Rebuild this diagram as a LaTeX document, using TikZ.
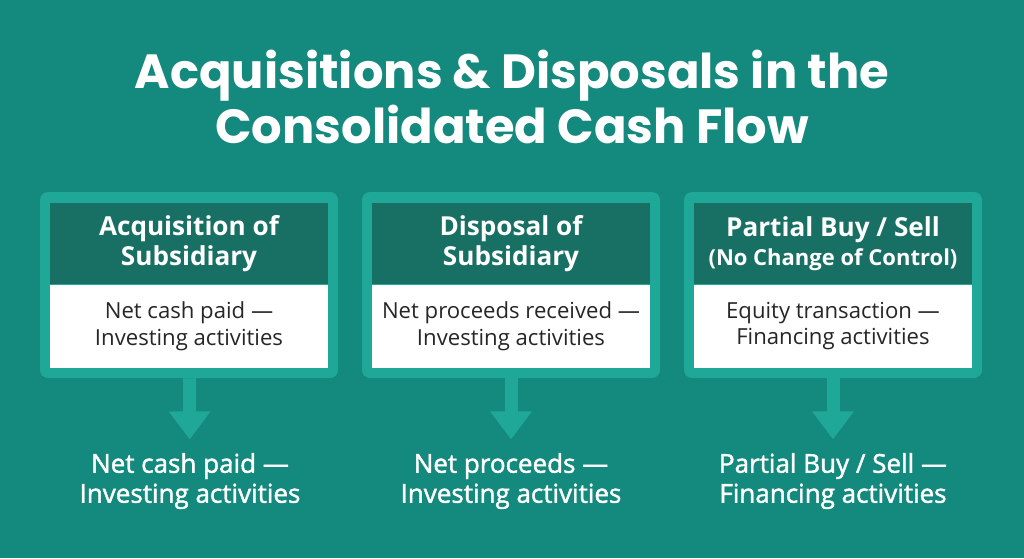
\documentclass[tikz,border=0pt]{standalone}
\usepackage{fontspec}
\setmainfont{Open Sans}
\newfontfamily\titlefont{Poppins}
\newfontfamily\semifont{Open Sans}[Ligatures=TeX,FakeBold=1.6]
\usetikzlibrary{arrows.meta,positioning}
\definecolor{bgteal}{HTML}{14897D}
\definecolor{frameteal}{HTML}{1FA898}
\definecolor{headteal}{HTML}{186F63}

\begin{document}
\begin{tikzpicture}[x=0.75pt,y=-0.75pt,
  frame/.style={fill=frameteal,rounded corners=6pt,minimum width=223.5pt,minimum height=139.5pt,inner sep=0pt},
  head/.style={fill=headteal,text=white,font=\fontsize{19.6}{22}\selectfont\bfseries,align=center,minimum width=208.5pt,minimum height=60.75pt,inner sep=0pt,anchor=north},
  body/.style={fill=white,text=black!85,font=\fontsize{16.6}{20}\selectfont,align=center,minimum width=208.5pt,minimum height=62.25pt,inner sep=0pt,anchor=north},
  result/.style={text=white,font=\semifont\fontsize{19.5}{22.5}\selectfont,align=center,inner sep=0pt},
  flow/.style={draw=frameteal,line width=9.75pt,-{Triangle[width=30pt,length=21pt]},shorten >=10pt}]
\fill[bgteal] (0,0) rectangle (1024,558);
\node[text=white,font=\titlefont\fontsize{36}{41.5}\selectfont\bfseries,align=center] (title) at (512,97) {Acquisitions \& Disposals in the\\Consolidated Cash Flow};
% the three cases
\node[frame] (f1) at (189,285) {};
\node[head] (h1) at ([yshift=-8.25pt]f1.north) {Acquisition of\\Subsidiary};
\node[body] (b1) at (h1.south) {Net cash paid ---\\Investing activities};
\node[frame] (f2) at (511,285) {};
\node[head] (h2) at ([yshift=-8.25pt]f2.north) {Disposal of\\Subsidiary};
\node[body] (b2) at (h2.south) {Net proceeds received ---\\Investing activities};
\node[frame] (f3) at (833,285) {};
\node[head] (h3) at ([yshift=-8.25pt]f3.north) {Partial Buy / Sell\\{\fontsize{16.5}{22}\selectfont(No Change of Control)}};
\node[body] (b3) at (h3.south) {Equity transaction ---\\Financing activities};
% where each one lands
\node[result] (n1) at (190,481) {Net cash paid ---\\Investing activities};
\node[result] (n2) at (511,481) {Net proceeds ---\\Investing activities};
\node[result] (n3) at (833,481) {Partial Buy / Sell ---\\Financing activities};
\draw[flow] (f1) -- (n1); \draw[flow] (f2) -- (n2); \draw[flow] (f3) -- (n3);
\end{tikzpicture}
\end{document}
